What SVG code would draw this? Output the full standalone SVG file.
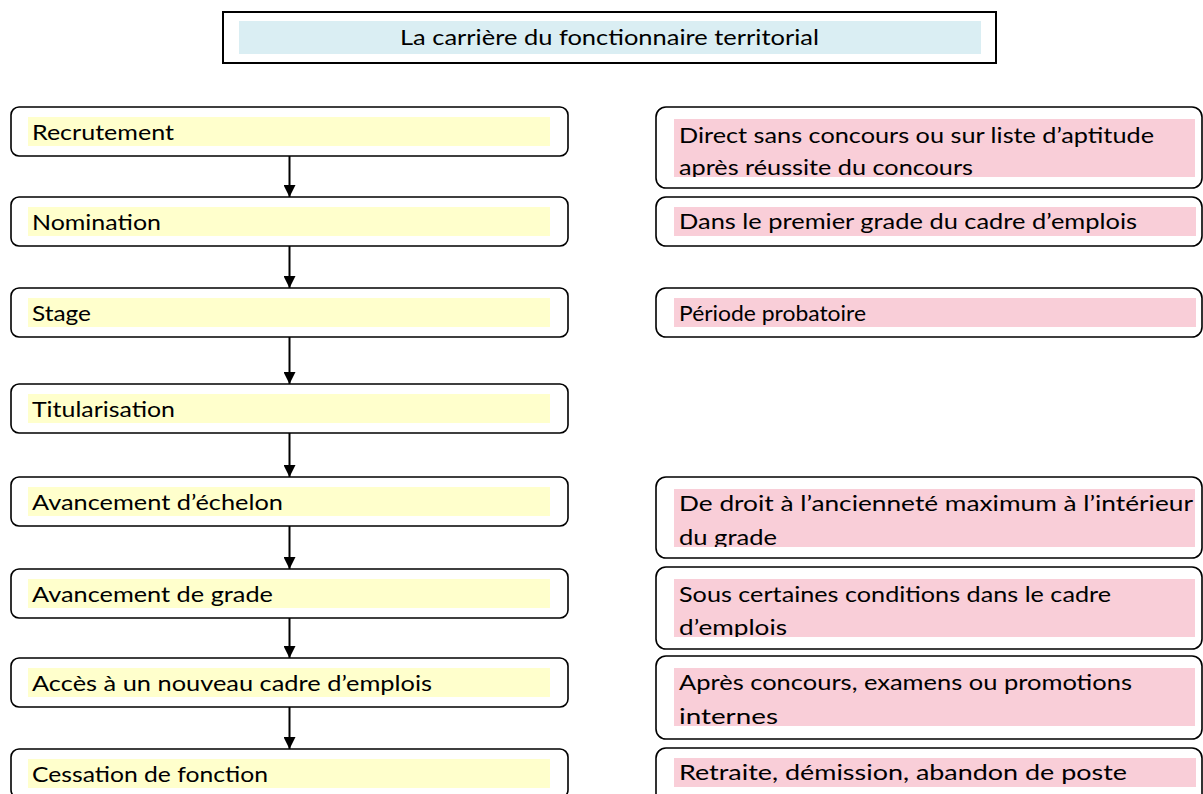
<svg xmlns="http://www.w3.org/2000/svg" width="1203" height="794" viewBox="0 0 1203 794">
<style>
.box{fill:#fff;stroke:#000;stroke-width:1.6}
.yl{fill:#FFFFCC}
.pk{fill:#F9CED8}
.t{font-family:Lato,"Open Sans","Liberation Sans",sans-serif;font-size:20.5px;fill:#000}
.ar{stroke:#000;stroke-width:2;fill:none}
</style>
<defs>
<marker id="ah" viewBox="0 0 12 12" refX="12" refY="6" markerWidth="12" markerHeight="12" markerUnits="userSpaceOnUse" orient="auto"><path d="M0,0 L12,6 L0,12 z" fill="#000"/></marker>
<clipPath id="c1"><rect x="674" y="119" width="521" height="58"/></clipPath>
<clipPath id="c4"><rect x="674" y="489" width="521" height="58"/></clipPath>
<clipPath id="c5"><rect x="674" y="579" width="521" height="58"/></clipPath>
<clipPath id="c6"><rect x="674" y="668" width="521" height="58"/></clipPath>
</defs>
<rect width="1203" height="794" fill="#fff"/>
<g id="title">
<rect x="223" y="12" width="773" height="51" fill="#fff" stroke="#000" stroke-width="2"/>
<rect x="239" y="21" width="742" height="33" fill="#DAEEF3"/>
<text class="t" x="400" y="45" textLength="419" lengthAdjust="spacingAndGlyphs">La carrière du fonctionnaire territorial</text>
</g>
<g id="connectors">
<line class="ar" x1="289.5" y1="156" x2="289.5" y2="197" marker-end="url(#ah)"/>
<line class="ar" x1="289.5" y1="246" x2="289.5" y2="288" marker-end="url(#ah)"/>
<line class="ar" x1="289.5" y1="337" x2="289.5" y2="384" marker-end="url(#ah)"/>
<line class="ar" x1="289.5" y1="433" x2="289.5" y2="477" marker-end="url(#ah)"/>
<line class="ar" x1="289.5" y1="526" x2="289.5" y2="569" marker-end="url(#ah)"/>
<line class="ar" x1="289.5" y1="618" x2="289.5" y2="658" marker-end="url(#ah)"/>
<line class="ar" x1="289.5" y1="707" x2="289.5" y2="749" marker-end="url(#ah)"/>
</g>
<g id="n-recrutement"><rect class="box" x="11" y="107" width="557" height="49" rx="8"/><rect class="yl" x="28" y="117" width="522" height="29"/><text class="t" x="32" y="140" textLength="142" lengthAdjust="spacingAndGlyphs">Recrutement</text></g>
<g id="n-nomination"><rect class="box" x="11" y="197" width="557" height="49" rx="8"/><rect class="yl" x="28" y="207" width="522" height="29"/><text class="t" x="32" y="230" textLength="129" lengthAdjust="spacingAndGlyphs">Nomination</text></g>
<g id="n-stage"><rect class="box" x="11" y="288" width="557" height="49" rx="8"/><rect class="yl" x="28" y="298" width="522" height="29"/><text class="t" x="32" y="321" textLength="59" lengthAdjust="spacingAndGlyphs">Stage</text></g>
<g id="n-titularisation"><rect class="box" x="11" y="384" width="557" height="49" rx="8"/><rect class="yl" x="28" y="394" width="522" height="29"/><text class="t" x="32" y="417" textLength="143" lengthAdjust="spacingAndGlyphs">Titularisation</text></g>
<g id="n-echelon"><rect class="box" x="11" y="477" width="557" height="49" rx="8"/><rect class="yl" x="28" y="487" width="522" height="29"/><text class="t" x="32" y="510" textLength="251" lengthAdjust="spacingAndGlyphs">Avancement d’échelon</text></g>
<g id="n-grade"><rect class="box" x="11" y="569" width="557" height="49" rx="8"/><rect class="yl" x="28" y="579" width="522" height="29"/><text class="t" x="32" y="602" textLength="241" lengthAdjust="spacingAndGlyphs">Avancement de grade</text></g>
<g id="n-acces"><rect class="box" x="11" y="658" width="557" height="49" rx="8"/><rect class="yl" x="28" y="668" width="522" height="29"/><text class="t" x="32" y="691" textLength="400" lengthAdjust="spacingAndGlyphs">Accès à un nouveau cadre d’emplois</text></g>
<g id="n-cessation"><rect class="box" x="11" y="749" width="557" height="49" rx="8"/><rect class="yl" x="28" y="759" width="522" height="29"/><text class="t" x="32" y="782" textLength="236" lengthAdjust="spacingAndGlyphs">Cessation de fonction</text></g>
<g id="r-recrutement"><rect class="box" x="656" y="107" width="546" height="81" rx="10"/><rect class="pk" x="674" y="119" width="521" height="58"/><g clip-path="url(#c1)"><text class="t" x="679" y="143" textLength="475" lengthAdjust="spacingAndGlyphs">Direct sans concours ou sur liste d’aptitude</text><text class="t" x="679" y="175" textLength="294" lengthAdjust="spacingAndGlyphs">après réussite du concours</text></g></g>
<g id="r-nomination"><rect class="box" x="656" y="197" width="546" height="49" rx="10"/><rect class="pk" x="674" y="207" width="522" height="29"/><text class="t" x="679" y="229" textLength="458" lengthAdjust="spacingAndGlyphs">Dans le premier grade du cadre d’emplois</text></g>
<g id="r-stage"><rect class="box" x="656" y="288" width="546" height="49" rx="10"/><rect class="pk" x="674" y="298" width="522" height="29"/><text class="t" x="679" y="321" textLength="187" lengthAdjust="spacingAndGlyphs">Période probatoire</text></g>
<g id="r-echelon"><rect class="box" x="656" y="477" width="546" height="81" rx="10"/><rect class="pk" x="674" y="489" width="521" height="58"/><g clip-path="url(#c4)"><text class="t" x="679" y="511" textLength="514" lengthAdjust="spacingAndGlyphs">De droit à l’ancienneté maximum à l’intérieur</text><text class="t" x="679" y="545" textLength="98" lengthAdjust="spacingAndGlyphs">du grade</text></g></g>
<g id="r-grade"><rect class="box" x="656" y="567" width="546" height="82" rx="10"/><rect class="pk" x="674" y="579" width="521" height="58"/><g clip-path="url(#c5)"><text class="t" x="679" y="602" textLength="432" lengthAdjust="spacingAndGlyphs">Sous certaines conditions dans le cadre</text><text class="t" x="679" y="635" textLength="108" lengthAdjust="spacingAndGlyphs">d’emplois</text></g></g>
<g id="r-acces"><rect class="box" x="656" y="656" width="546" height="83" rx="10"/><rect class="pk" x="674" y="668" width="521" height="58"/><g clip-path="url(#c6)"><text class="t" x="679" y="690" textLength="453" lengthAdjust="spacingAndGlyphs">Après concours, examens ou promotions</text><text class="t" x="679" y="724" textLength="99" lengthAdjust="spacingAndGlyphs">internes</text></g></g>
<g id="r-cessation"><rect class="box" x="656" y="748" width="546" height="60" rx="10"/><rect class="pk" x="674" y="758" width="522" height="29"/><text class="t" x="679" y="780" textLength="448" lengthAdjust="spacingAndGlyphs">Retraite, démission, abandon de poste</text></g>
</svg>
